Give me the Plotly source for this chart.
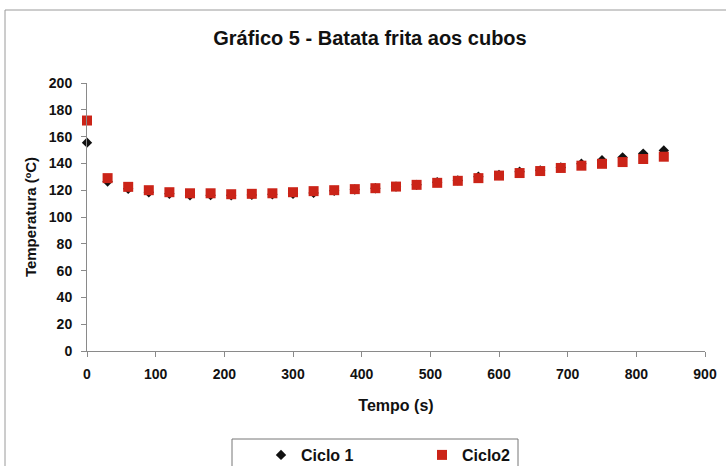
import plotly.graph_objects as go

# Tempo de fritura (s) e temperatura do óleo (ºC) em dois ciclos
tempo = [0, 30, 60, 90, 120, 150, 180, 210, 240, 270, 300, 330, 360, 390, 420,
         450, 480, 510, 540, 570, 600, 630, 660, 690, 720, 750, 780, 810, 840]
ciclo1 = [155.5, 126.5, 121.0, 118.5, 117.4, 116.2, 116.3, 116.2, 116.5, 117.0,
          117.3, 118.0, 119.5, 120.5, 121.4, 122.7, 124.0, 126.0, 127.3, 130.0,
          131.3, 133.8, 134.8, 137.0, 139.8, 142.3, 144.5, 147.3, 149.7]
ciclo2 = [172.0, 129.0, 122.5, 120.0, 118.5, 117.7, 117.7, 117.0, 117.3, 117.7,
          118.5, 119.3, 120.0, 120.8, 121.5, 122.7, 124.0, 125.5, 127.0, 129.0,
          130.9, 132.8, 134.3, 136.6, 138.3, 139.7, 141.0, 143.3, 145.0]

x_ticks = [0, 100, 200, 300, 400, 500, 600, 700, 800, 900]
y_ticks = [0, 20, 40, 60, 80, 100, 120, 140, 160, 180, 200]

FONT = "Liberation Sans, Arial, sans-serif"

fig = go.Figure()
fig.add_trace(go.Scatter(
    x=tempo, y=ciclo1, mode="markers", name="<b>Ciclo 1</b>", cliponaxis=False,
    marker=dict(symbol="diamond", size=8, color="#111111"),
))
fig.add_trace(go.Scatter(
    x=tempo, y=ciclo2, mode="markers", name="<b>Ciclo2</b>", cliponaxis=False,
    marker=dict(symbol="square", size=10, color="#CB2418"),
))

L, R, T, B = 87, 21, 83, 115
W, H = 726, 466
pw, ph = W - L - R, H - T - B


def px(xp):
    return (xp - L) / pw


def py(yp):
    return (H - B - yp) / ph


fig.update_layout(
    width=W, height=H,
    margin=dict(l=L, r=R, t=T, b=B, autoexpand=False),
    paper_bgcolor="white", plot_bgcolor="white",
    font=dict(family=FONT, color="#111111", size=14),
    title=dict(text="<b>Gráfico 5 - Batata frita aos cubos</b>",
               x=370 / W, xanchor="center", y=1 - 38 / H, yanchor="middle",
               font=dict(size=20, family=FONT, color="#111111")),
    showlegend=True,
    legend=dict(orientation="h", x=px(261), xanchor="left",
                y=py(455), yanchor="middle",
                font=dict(size=16, family=FONT, color="#111111"),
                entrywidth=116, entrywidthmode="pixels",
                bgcolor="rgba(0,0,0,0)", borderwidth=0),
    shapes=[
        # moldura do gráfico
        dict(type="rect", xref="paper", yref="paper",
             x0=px(5), x1=px(740), y0=py(10), y1=py(520),
             line=dict(color="#9a9a9a", width=1), layer="below"),
        # caixa da legenda
        dict(type="rect", xref="paper", yref="paper",
             x0=px(232), x1=px(518), y0=py(439), y1=py(480),
             line=dict(color="#777777", width=1), layer="below"),
    ],
)

fig.update_xaxes(
    range=[0, 900], tickvals=x_ticks, ticktext=[f"<b>{v}</b>" for v in x_ticks],
    showgrid=False, zeroline=False, showline=True, linecolor="#8a8a8a", linewidth=1,
    ticks="outside", ticklen=5, tickcolor="#8a8a8a", ticklabelstandoff=5,
    tickfont=dict(size=14, family=FONT, color="#111111"),
    title=dict(text="<b>Tempo (s)</b>", standoff=19,
               font=dict(size=16, family=FONT, color="#111111")),
)
fig.update_yaxes(
    range=[0, 200], tickvals=y_ticks, ticktext=[f"<b>{v}</b>" for v in y_ticks],
    showgrid=False, zeroline=False, showline=True, linecolor="#8a8a8a", linewidth=1,
    ticks="outside", ticklen=5, tickcolor="#8a8a8a", ticklabelstandoff=6,
    tickfont=dict(size=14, family=FONT, color="#111111"),
    title=dict(text="<b>Temperatura (ºC)</b>", standoff=8,
               font=dict(size=15, family=FONT, color="#111111")),
)

fig.write_html("out.html")
